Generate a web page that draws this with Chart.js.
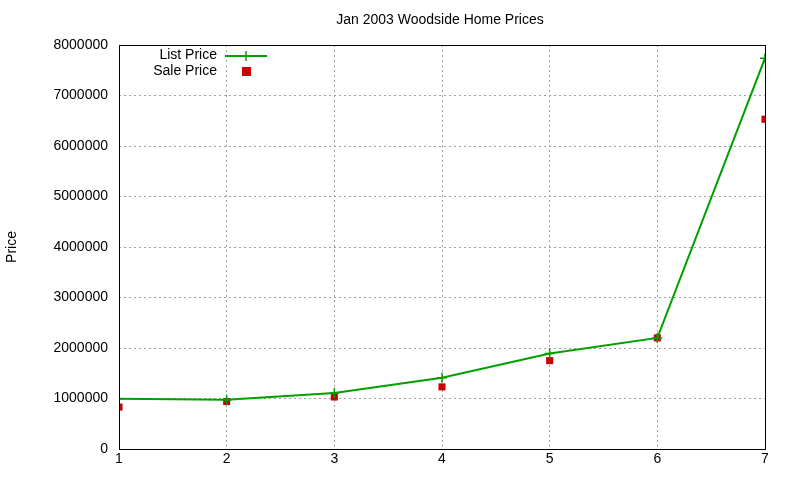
<!DOCTYPE html>
<html><head><meta charset="utf-8">
<script src="https://cdn.jsdelivr.net/npm/chart.js@4"></script>
<style>html,body{margin:0;padding:0;background:#fff}#w{width:800px;height:480px}</style>
</head><body><div id="w"><canvas id="c"></canvas></div>
<script>
const houses = [1, 2, 3, 4, 5, 6, 7];
const listPrice = [995000, 975000, 1110000, 1410000, 1890000, 2200000, 7740000];
const salePrice = [830000, 940000, 1030000, 1230000, 1750000, 2200000, 6530000];
const yTicks = [0, 1000000, 2000000, 3000000, 4000000, 5000000, 6000000, 7000000, 8000000];
const FONT = "'Liberation Sans', Arial, sans-serif";
const green = '#00a000', red = '#cc0000';

const overlay = {
  id: 'overlay',
  afterDraw(ch) {
    const c = ch.ctx, a = ch.chartArea;
    c.save();
    c.strokeStyle = '#000'; c.lineWidth = 1;
    c.strokeRect(a.left + 0.5, a.top + 0.5, a.right - a.left, a.bottom - a.top);
    c.fillStyle = '#000'; c.font = '14px ' + FONT;
    c.textAlign = 'center'; c.textBaseline = 'middle';
    c.fillText('Jan 2003 Woodside Home Prices', 440, 20);
    c.save(); c.translate(12, 247); c.rotate(-Math.PI / 2);
    c.fillText('Price', 0, 0); c.restore();
    c.textAlign = 'right';
    c.fillText('List Price', 217, 55);
    c.fillText('Sale Price', 217, 71);
    c.strokeStyle = green; c.lineWidth = 2;
    c.beginPath(); c.moveTo(225, 56); c.lineTo(267, 56); c.stroke();
    c.lineWidth = 1.5;
    c.beginPath(); c.moveTo(246, 51); c.lineTo(246, 61); c.stroke();
    c.fillStyle = red; c.fillRect(242, 67, 9, 9);
    c.restore();
  }
};

new Chart(document.getElementById('c'), {
  type: 'line',
  data: {
    datasets: [
      { label: 'List Price', data: houses.map((x, i) => ({ x, y: listPrice[i] })),
        borderColor: green, backgroundColor: green, borderWidth: 2, tension: 0,
        pointStyle: 'cross', pointRadius: 5, pointBorderWidth: 1.5, pointBorderColor: green, fill: false },
      { label: 'Sale Price', data: houses.map((x, i) => ({ x, y: salePrice[i] })),
        showLine: false, pointStyle: 'rect', pointRadius: 5, backgroundColor: red, borderColor: red, borderWidth: 0 }
    ]
  },
  options: {
    responsive: true, maintainAspectRatio: false, animation: false,
    layout: { padding: { left: 0, right: 35, top: 45, bottom: 0 } },
    plugins: { legend: { display: false }, title: { display: false }, tooltip: { enabled: false } },
    scales: {
      x: { type: 'linear', min: 1, max: 7,
        afterFit(s) { s.height = 31; },
        ticks: { stepSize: 1, color: '#000', font: { family: FONT, size: 14 }, padding: 2 },
        grid: { color: '#a0a0a0', drawTicks: false },
        border: { display: false, dash: [2, 3] } },
      y: { min: 0, max: 8000000,
        afterFit(s) { s.width = 119; },
        afterBuildTicks(s) { s.ticks = yTicks.map(v => ({ value: v })); },
        ticks: { color: '#000', font: { family: FONT, size: 14 }, padding: 11, callback: v => String(v) },
        grid: { color: '#a0a0a0', drawTicks: false },
        border: { display: false, dash: [2, 3] } }
    }
  },
  plugins: [overlay]
});
</script></body></html>
